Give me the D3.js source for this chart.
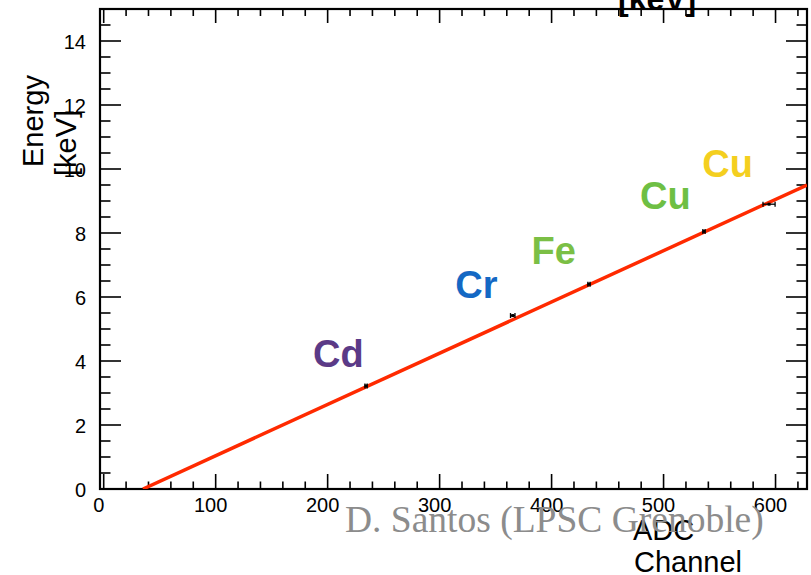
<!DOCTYPE html>
<html>
<head>
<meta charset="utf-8">
<script src="https://cdn.jsdelivr.net/npm/d3@7"></script>
<style>
html,body{margin:0;padding:0;background:#fff;}
svg{display:block;}
</style>
</head>
<body>
<svg id="chart" width="811" height="575"></svg>
<script>
// ---- data ----
const elements = ["Cd", "Cr", "Fe", "Cu", "Cu"];
const channels = [234.3, 365.3, 433.4, 536.1, 594.2];
const energies = [3.22, 5.42, 6.40, 8.05, 8.90];
const channelErr = [1.0, 2.0, 1.0, 1.0, 5.4];
const fitChannels = [35.1, 628.1];
const fitEnergies = [0, 9.5];
const xTicks = [0, 100, 200, 300, 400, 500, 600];
const yTicks = [0, 2, 4, 6, 8, 10, 12, 14];
const labelColors = ["#5b3a87", "#1468c4", "#7bbf45", "#6ebf44", "#f4cf1f"];
// label anchor positions in data units (channel, energy)
const labelX = [187.0, 314.0, 382.0, 479.0, 534.5];
const labelY = [3.81, 5.97, 7.03, 8.75, 9.75];

const svg = d3.select("#chart");
const L = 100, R = 807, T = 9, B = 489;
const x = d3.scaleLinear().domain([-3.3, 628.1]).range([L, R]);
const y = d3.scaleLinear().domain([0, 15]).range([B, T]);

const font = "'Liberation Sans', Arial, Helvetica, sans-serif";

// clip
svg.append("clipPath").attr("id", "clip").append("rect")
  .attr("x", L).attr("y", T).attr("width", R - L).attr("height", B - T);

// minor/major ticks
const xMinor = d3.range(0, 628, 20);
const yMinor = d3.range(0, 15.01, 0.5);

const g = svg.append("g");
g.selectAll(".xb").data(xMinor).enter().append("line")
  .attr("x1", d => x(d)).attr("x2", d => x(d))
  .attr("y1", B).attr("y2", d => B - (d % 100 === 0 ? 15 : 7.5))
  .attr("stroke", "#000").attr("stroke-width", 1.6);
g.selectAll(".xt").data(xMinor).enter().append("line")
  .attr("x1", d => x(d)).attr("x2", d => x(d))
  .attr("y1", T).attr("y2", d => T + (d % 100 === 0 ? 14 : 7))
  .attr("stroke", "#000").attr("stroke-width", 1.6);
g.selectAll(".yl").data(yMinor).enter().append("line")
  .attr("y1", d => y(d)).attr("y2", d => y(d))
  .attr("x1", L).attr("x2", d => L + (Math.abs(d % 2) < 1e-9 ? 21 : 10.5))
  .attr("stroke", "#000").attr("stroke-width", 1.6);
g.selectAll(".yr").data(yMinor).enter().append("line")
  .attr("y1", d => y(d)).attr("y2", d => y(d))
  .attr("x1", R).attr("x2", d => R - (Math.abs(d % 2) < 1e-9 ? 21 : 10.5))
  .attr("stroke", "#000").attr("stroke-width", 1.6);

// frame
svg.append("rect").attr("x", L).attr("y", T).attr("width", R - L).attr("height", B - T)
  .attr("fill", "none").attr("stroke", "#000").attr("stroke-width", 2.2);

// tick labels
svg.selectAll(".xl").data(xTicks).enter().append("text")
  .attr("x", d => x(d) - 5).attr("y", 512)
  .attr("text-anchor", "middle").attr("font-family", font).attr("font-size", 20)
  .text(d => d);
svg.selectAll(".yl2").data(yTicks).enter().append("text")
  .attr("x", 86).attr("y", d => y(d) + 7.5)
  .attr("text-anchor", "end").attr("font-family", font).attr("font-size", 20)
  .text(d => d);

// fit line
const line = d3.line().x((d, i) => x(fitChannels[i])).y((d, i) => y(fitEnergies[i]));
svg.append("path").datum(fitChannels).attr("d", line)
  .attr("clip-path", "url(#clip)")
  .attr("fill", "none").attr("stroke", "#ff2a00").attr("stroke-width", 3.5);

// data points with error bars
const pts = svg.append("g");
channels.forEach((c, i) => {
  const px = x(c), py = y(energies[i]);
  const x0 = x(c - channelErr[i]), x1 = x(c + channelErr[i]);
  pts.append("line").attr("x1", x0).attr("x2", x1).attr("y1", py).attr("y2", py)
    .attr("stroke", "#000").attr("stroke-width", 1.3);
  pts.append("line").attr("x1", x0).attr("x2", x0).attr("y1", py - 2.5).attr("y2", py + 2.5)
    .attr("stroke", "#000").attr("stroke-width", 1.3);
  pts.append("line").attr("x1", x1).attr("x2", x1).attr("y1", py - 2.5).attr("y2", py + 2.5)
    .attr("stroke", "#000").attr("stroke-width", 1.3);
  pts.append("rect").attr("x", px - 1.5).attr("y", py - 1.5).attr("width", 3).attr("height", 3)
    .attr("fill", "#000");
});

// element labels
svg.selectAll(".el").data(elements).enter().append("text")
  .attr("x", (d, i) => x(labelX[i])).attr("y", (d, i) => y(labelY[i]))
  .attr("font-family", font).attr("font-weight", "bold").attr("font-size", 38)
  .attr("fill", (d, i) => labelColors[i])
  .text(d => d);

// axis titles
svg.append("text").attr("transform", "translate(43,167) rotate(-90)")
  .attr("font-family", font).attr("font-size", 29).text("Energy");
svg.append("text").attr("transform", "translate(76,176) rotate(-90)")
  .attr("font-family", font).attr("font-size", 29).text("[keV]");
svg.append("text").attr("x", 633).attr("y", 540)
  .attr("font-family", font).attr("font-size", 29).text("ADC");
svg.append("text").attr("x", 634).attr("y", 572)
  .attr("font-family", font).attr("font-size", 29).text("Channel");
svg.append("text").attr("x", 618).attr("y", 10)
  .attr("font-family", font).attr("font-weight", "bold").attr("font-size", 32).text("[keV]");

// watermark
svg.append("text").attr("x", 345).attr("y", 532)
  .attr("font-family", "'Liberation Serif', 'Times New Roman', serif")
  .attr("font-size", 37.5).attr("fill", "#8c8c8c")
  .text("D. Santos (LPSC Grenoble)");
</script>
</body>
</html>
